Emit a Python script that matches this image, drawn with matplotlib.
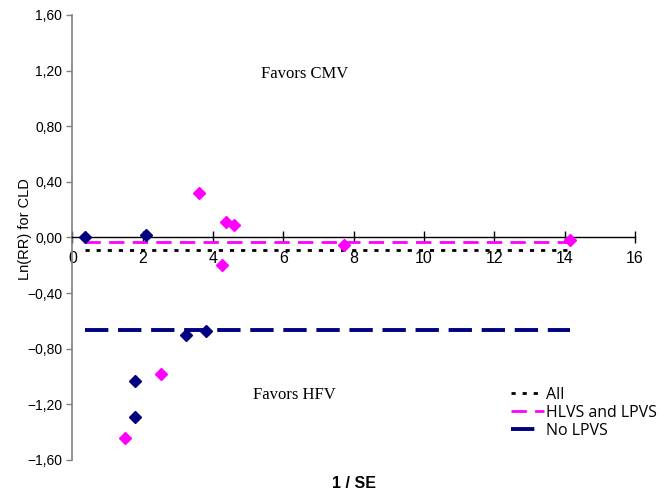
import numpy as np
import matplotlib.pyplot as plt
from matplotlib.ticker import FuncFormatter

# studies without LPVS (navy) and HLVS/LPVS studies (magenta)
navy_x = [0.36, 2.09, 3.22, 3.79, 1.78, 1.78]
navy_y = [0.00, 0.02, -0.70, -0.67, -1.035, -1.29]
pink_x = [3.60, 4.36, 4.60, 4.24, 7.71, 14.16, 2.51, 1.49]
pink_y = [0.32, 0.108, 0.088, -0.197, -0.055, -0.015, -0.98, -1.44]

# pooled estimates, drawn across the range of 1/SE
pooled_labels = ["All", "HLVS and LPVS", "No LPVS"]
pooled_values = [-0.091, -0.029, -0.667]
pooled_range = [0.36, 14.16]


def comma_fmt(v, pos):
    v = round(v, 2) + 0.0
    return f"{v:.2f}".replace(".", ",").replace("-", "\u2212")


fig = plt.figure(figsize=(6.59, 4.96), dpi=100)
ax = fig.add_axes([0.110, 0.0726, 0.8535, 0.8972])

styles = [
    dict(color="black", lw=2.0, dashes=(1.5, 2.5)),
    dict(color="#FF00FF", lw=2.0, dashes=(5.5, 3.0)),
    dict(color="#000080", lw=2.8, dashes=(6.0, 2.5)),
]
for lab, val, st in zip(pooled_labels, pooled_values, styles):
    ax.plot(pooled_range, [val, val], label=lab, zorder=2, **st)

ax.plot(navy_x, navy_y, ls="none", marker="D", ms=6.5, color="#000080", zorder=4)
ax.plot(pink_x, pink_y, ls="none", marker="D", ms=6.5, color="#FF00FF", zorder=4)

ax.set_xlim(0, 16)
ax.set_ylim(-1.6, 1.6)
ax.set_xticks(np.arange(0, 17, 2))
ax.set_yticks(np.arange(-1.6, 1.61, 0.4))
ax.yaxis.set_major_formatter(FuncFormatter(comma_fmt))

ax.spines["top"].set_visible(False)
ax.spines["right"].set_visible(False)
ax.spines["bottom"].set_position(("data", 0))
ax.spines["left"].set_color("#808080")
ax.spines["left"].set_linewidth(1.2)
ax.spines["bottom"].set_linewidth(1.0)

ax.tick_params(axis="x", direction="inout", length=8, width=1, labelsize=11.5, pad=6)
ax.tick_params(axis="y", direction="out", length=4, width=1, labelsize=10,
               color="#808080")
for t in ax.get_xticklabels() + ax.get_yticklabels():
    t.set_fontfamily("Liberation Sans")

ax.set_ylabel("Ln(RR) for CLD", fontsize=10.5, family="Liberation Sans")
ax.yaxis.set_label_coords(-0.072, 0.52)
ax.set_xlabel("1 / SE", fontsize=11.5, family="Liberation Sans", weight="bold")
ax.xaxis.set_label_coords(0.5, -0.035)

ax.text(6.6, 1.175, "Favors CMV", ha="center", va="center",
        fontsize=12, family="Liberation Serif")
ax.text(6.3, -1.13, "Favors HFV", ha="center", va="center",
        fontsize=12, family="Liberation Serif")

leg = fig.legend(loc="upper left", bbox_to_anchor=(0.775, 0.220), frameon=False,
                 prop={"family": "Open Sans", "size": 11.5},
                 handlelength=2.1, handletextpad=0.1, labelspacing=0.12,
                 borderaxespad=0, borderpad=0)

fig.savefig("out.png", dpi=100)
